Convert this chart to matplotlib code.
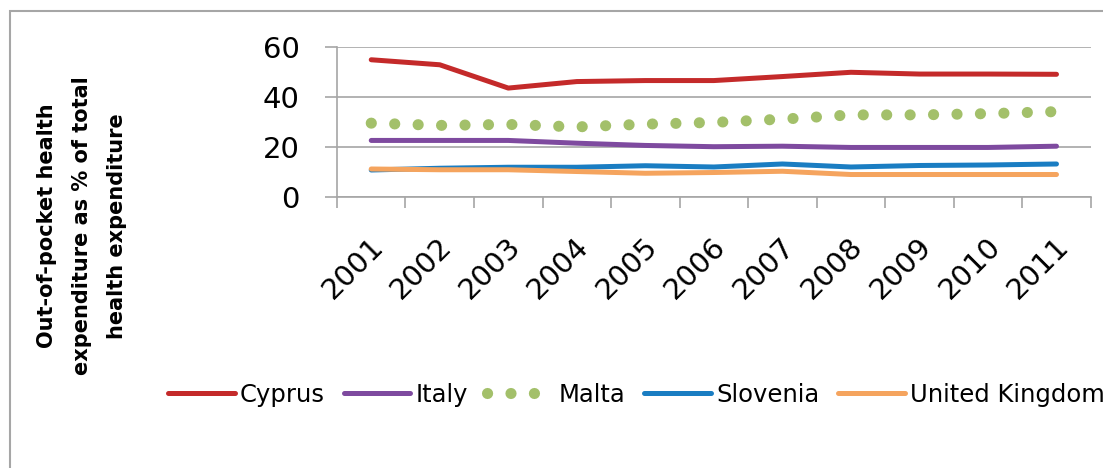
import numpy as np
import matplotlib.pyplot as plt
import matplotlib.transforms as mtransforms
from matplotlib.patches import Rectangle

# Out-of-pocket spending, % of total health expenditure
years = ['2001', '2002', '2003', '2004', '2005', '2006', '2007', '2008', '2009', '2010', '2011']
cyprus = [54.9, 52.9, 43.6, 46.2, 46.6, 46.6, 48.2, 49.9, 49.2, 49.2, 49.1]
italy = [22.7, 22.7, 22.7, 21.6, 20.7, 20.2, 20.4, 19.9, 19.9, 19.9, 20.4]
malta = [29.6, 28.7, 29.1, 28.1, 29.2, 29.9, 31.2, 32.9, 32.9, 33.4, 34.2]
slovenia = [10.9, 11.6, 12.0, 12.0, 12.6, 12.1, 13.3, 12.1, 12.7, 12.9, 13.3]
uk = [11.3, 11.0, 11.0, 10.3, 9.6, 9.9, 10.4, 9.1, 9.1, 9.1, 9.1]

grey = '#a6a6a6'
fig = plt.figure(figsize=(11.03, 4.68), dpi=100)
ax = fig.add_axes([0.3055, 0.5784, 0.6834, 0.3212])

x = np.arange(len(years))
ax.plot(x, cyprus, color='#c42a2a', lw=3.6, solid_capstyle='round', solid_joinstyle='round', label='Cyprus')
ax.plot(x, italy, color='#7e4a9f', lw=3.6, solid_capstyle='round', solid_joinstyle='round', label='Italy')
ax.plot(x, malta, color='#a3c06a', lw=8, linestyle=(0, (0.01, 2.1)), dash_capstyle='round', label='Malta')
ax.plot(x, slovenia, color='#1a7dc2', lw=3.6, solid_capstyle='round', solid_joinstyle='round', label='Slovenia')
ax.plot(x, uk, color='#f5a45e', lw=3.6, solid_capstyle='round', solid_joinstyle='round', label='United Kingdom')

ax.set_xlim(-0.5, len(years) - 0.5)
ax.set_ylim(0, 60)
ax.set_yticks([0, 20, 40, 60])
ax.yaxis.grid(True, color=grey, lw=1.2)
ax.set_axisbelow(True)
for s in ['top', 'right']:
    ax.spines[s].set_visible(False)
for s in ['left', 'bottom']:
    ax.spines[s].set_color(grey)
    ax.spines[s].set_linewidth(1.2)
ax.tick_params(axis='y', length=9, width=1.2, color=grey, pad=18, labelsize=21)

# ticks between categories, labels drawn separately at the centres
ax.set_xticks(np.arange(-0.5, len(years)))
ax.set_xticklabels([])
ax.tick_params(axis='x', length=8, width=1.2, color=grey)
off = mtransforms.offset_copy(ax.get_xaxis_transform(), fig=fig, x=8, y=-45, units='dots')
for i, yr in enumerate(years):
    ax.text(i, 0, yr, transform=off, rotation=45, rotation_mode='anchor',
            ha='right', va='center', fontsize=21)

fig.text(0.0743, 0.517, 'Out-of-pocket health\nexpenditure as % of total\nhealth expenditure',
         rotation=90, ha='center', va='center', multialignment='center',
         fontsize=15, fontweight='bold', linespacing=1.95)

leg = fig.legend(loc='center left', bbox_to_anchor=(0.1523, 0.156), ncol=5, frameon=False,
                 fontsize=17.5, handlelength=2.75, handletextpad=0.2, columnspacing=0.78,
                 borderpad=0, borderaxespad=0)

# outer chart frame
fig.patches.append(Rectangle((9.5 / 1103, -0.1), 1.2, 1.1 - 11.5 / 468,
                             transform=fig.transFigure, fill=False, ec=grey, lw=1.5))

plt.savefig('out.png', dpi=100)
